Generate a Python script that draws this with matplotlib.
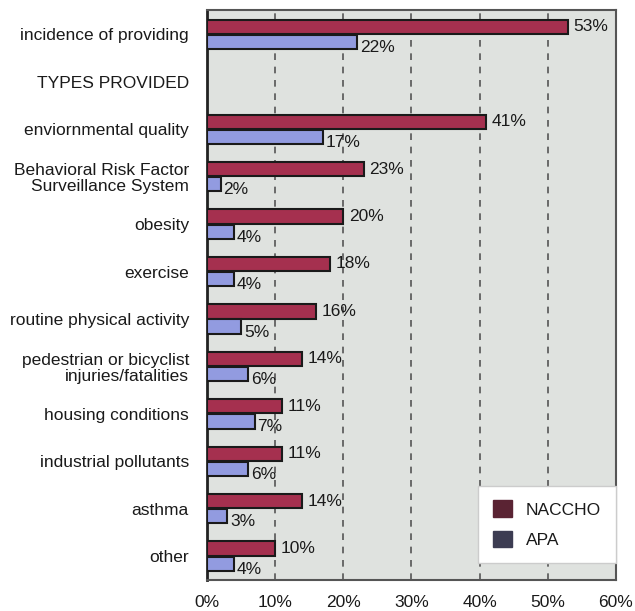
import numpy as np
import matplotlib
matplotlib.use("Agg")
import matplotlib.pyplot as plt
from matplotlib.patches import Patch

plt.rcParams['font.family'] = ['Liberation Sans Narrow', 'Liberation Sans', 'DejaVu Sans']

# Data (None = heading row with no bars)
categories = [
    "incidence of providing",
    "TYPES PROVIDED",
    "enviornmental quality",
    "Behavioral Risk Factor\nSurveillance System",
    "obesity",
    "exercise",
    "routine physical activity",
    "pedestrian or bicyclist\ninjuries/fatalities",
    "housing conditions",
    "industrial pollutants",
    "asthma",
    "other",
]
naccho = [53, None, 41, 23, 20, 18, 16, 14, 11, 11, 14, 10]
apa = [22, None, 17, 2, 4, 4, 5, 6, 7, 6, 3, 4]
x_ticks = [0, 10, 20, 30, 40, 50, 60]

naccho_color = "#a5304f"
apa_color = "#929be0"
text_color = "#1a1a1a"

fig = plt.figure(figsize=(6.35, 6.11), dpi=100)
ax = fig.add_axes([0.326, 0.051, 0.644, 0.933])
ax.set_facecolor("#dfe2df")

y = np.arange(len(categories))
h = 0.3
off = 0.16

for i, (n, a) in enumerate(zip(naccho, apa)):
    if n is None:
        continue
    ax.barh(i - off, n, height=h, color=naccho_color, edgecolor="#1a1a1a", linewidth=1.5, zorder=3)
    ax.barh(i + off, a, height=h, color=apa_color, edgecolor="#1a1a1a", linewidth=1.5, zorder=3)
    ax.annotate(f"{n}%", (n, i - off), xytext=(4, 0), textcoords="offset points",
                va="center", ha="left", fontsize=12.5, color=text_color, zorder=4)
    ax.annotate(f"{a}%", (a, i + off), xytext=(2, -4), textcoords="offset points",
                va="center", ha="left", fontsize=12.5, color=text_color, zorder=4)

ax.set_xlim(0, 60)
ax.set_ylim(len(categories) - 0.5, -0.52)
ax.set_xticks(x_ticks)
ax.set_xticklabels([f"{t}%" for t in x_ticks], fontsize=12.5, color=text_color)
ax.set_yticks(y)
ax.set_yticklabels(categories, fontsize=12.5, color=text_color, linespacing=1.1)
ax.tick_params(axis="both", length=0)
ax.tick_params(axis="x", pad=11)
ax.tick_params(axis="y", pad=13)

# dashed vertical gridlines
for t in x_ticks[1:-1]:
    ax.axvline(t, color="#555555", linestyle=(0, (4, 4)), linewidth=1.2, zorder=1)

for s in ax.spines.values():
    s.set_color("#555555")
    s.set_linewidth(1.5)
ax.spines["left"].set_color("#222222")
ax.spines["left"].set_linewidth(2)

handles = [Patch(facecolor="#5a2333", edgecolor="#5a2333", label="NACCHO"),
           Patch(facecolor="#3c3c52", edgecolor="#3c3c52", label="APA")]
leg = ax.legend(handles=handles, loc="lower right", bbox_to_anchor=(1.0, 0.03),
                borderaxespad=0, fontsize=12.5, frameon=True, fancybox=False,
                framealpha=1, handlelength=1.1, handleheight=1.1, labelspacing=0.75,
                borderpad=0.85, handletextpad=0.8)
leg.get_frame().set_facecolor("white")
leg.get_frame().set_edgecolor("#cccccc")
leg.set_zorder(5)
for txt in leg.get_texts():
    txt.set_color(text_color)

fig.savefig("out.png", dpi=100)
